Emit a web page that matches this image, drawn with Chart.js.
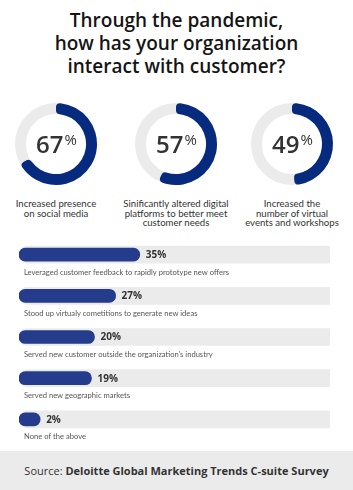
<!DOCTYPE html>
<html>
<head>
<meta charset="utf-8">
<script src="https://cdn.jsdelivr.net/npm/chart.js@4"></script>
<style>
  html, body { margin: 0; padding: 0; background: #fff; }
  body { width: 353px; height: 490px; position: relative; overflow: hidden; font-family: "Open Sans", sans-serif; color: #333; }
  .title { position: absolute; left: 0; top: 9px; width: 353px; text-align: center; font-size: 19px; font-weight: 600; line-height: 23px; color: #151515; }
  .donut { position: absolute; top: 99px; }
  .dlabel { position: absolute; top: 199px; width: 120px; text-align: center; font-family: Lato, sans-serif; font-size: 9.6px; line-height: 9.6px; color: #333; }
  #bars { position: absolute; left: 0; top: 234px; }
  .footer { position: absolute; left: 0; top: 451px; width: 353px; height: 39px; background: #ebebeb; text-align: center; font-size: 11px; line-height: 39px; color: #333; }
  .footer b { font-weight: 700; }
</style>
</head>
<body>
<div class="title">Through the pandemic,<br>how has your organization<br>interact with customer?</div>

<canvas class="donut" id="d0" width="90" height="90" style="left:11px"></canvas>
<canvas class="donut" id="d1" width="90" height="90" style="left:131px"></canvas>
<canvas class="donut" id="d2" width="90" height="90" style="left:247px"></canvas>

<div class="dlabel" style="left:-4px">Increased presence<br>on social media</div>
<div class="dlabel" style="left:116px">Sinificantly altered digital<br>platforms to better meet<br>customer needs</div>
<div class="dlabel" style="left:232px">Increased the<br>number of virtual<br>events and workshops</div>

<canvas id="bars" width="353" height="206"></canvas>

<div class="footer">Source: <b>Deloitte Global Marketing Trends C-suite Survey</b></div>

<script>
// ── Data ──────────────────────────────────────────────────────────────────────
const donutValues = [67, 57, 49];

const barLabels = [
    'Leveraged customer feedback to rapidly prototype new offers',
    'Stood up virtualy cometitions to generate new ideas',
    'Served new customer outside the organization\u2019s industry',
    'Served new geographic markets',
    'None of the above'
];
const barValues = [35, 27, 20, 19, 2];
const trackValues = [100, 100, 100, 100, 100];

const NAVY = '#062a7e';
const BAR_BLUE = '#253c8c';
const GREY = '#ebebeb';

// ── Donuts ────────────────────────────────────────────────────────────────────
// grey ring behind the arc + the big number in the middle
const ringPlugin = {
    id: 'ring',
    beforeDatasetsDraw(chart) {
        const arc = chart.getDatasetMeta(0).data[0];
        const { ctx } = chart;
        const r = (arc.outerRadius + arc.innerRadius) / 2;
        ctx.save();
        ctx.beginPath();
        ctx.arc(arc.x, arc.y, r, 0, Math.PI * 2);
        ctx.lineWidth = arc.outerRadius - arc.innerRadius;
        ctx.strokeStyle = GREY;
        ctx.stroke();
        ctx.restore();
    },
    afterDraw(chart) {
        const arc = chart.getDatasetMeta(0).data[0];
        const { ctx } = chart;
        const num = String(chart.data.datasets[0].data[0]);
        ctx.save();
        ctx.fillStyle = '#333';
        ctx.textBaseline = 'alphabetic';
        ctx.font = '600 24px "Open Sans"';
        const w1 = ctx.measureText(num).width;
        ctx.font = '400 15px "Open Sans"';
        const w2 = ctx.measureText('%').width;
        const x0 = arc.x - (w1 + w2) / 2;
        ctx.font = '600 24px "Open Sans"';
        ctx.fillText(num, x0, arc.y + 9);
        ctx.font = '400 15px "Open Sans"';
        ctx.fillText('%', x0 + w1 + 1, arc.y + 1);
        ctx.restore();
    }
};

donutValues.forEach((v, i) => {
    new Chart(document.getElementById('d' + i), {
        type: 'doughnut',
        data: {
            datasets: [{
                data: [v, 100 - v],
                backgroundColor: [NAVY, 'rgba(0,0,0,0)'],
                borderWidth: 0,
                borderRadius: [4, 0]
            }]
        },
        options: {
            responsive: false,
            animation: false,
            radius: 41,
            cutout: 33,
            plugins: { legend: { display: false }, tooltip: { enabled: false } },
            events: []
        },
        plugins: [ringPlugin]
    });
});

// ── Bars ──────────────────────────────────────────────────────────────────────
// value label after each bar, caption under each track
const labelPlugin = {
    id: 'barText',
    afterDatasetsDraw(chart) {
        const { ctx } = chart;
        const meta = chart.getDatasetMeta(0);
        const xs = chart.scales.x;
        ctx.save();
        meta.data.forEach((bar, i) => {
            ctx.textBaseline = 'middle';
            ctx.fillStyle = '#333';
            ctx.font = '700 10px "Open Sans"';
            ctx.fillText(barValues[i] + '%', bar.x + 6, bar.y + 0.5);

            ctx.fillStyle = '#555';
            ctx.font = '400 7.6px Lato';
            ctx.fillText(barLabels[i], xs.left + 5, bar.y + 17.5);
        });
        ctx.restore();
    }
};

new Chart(document.getElementById('bars'), {
    type: 'bar',
    data: {
        labels: barLabels,
        datasets: [
            {
                data: barValues,
                base: -5,
                backgroundColor: BAR_BLUE,
                barThickness: 13,
                borderRadius: 7,
                borderSkipped: false,
                order: 1
            },
            {
                data: trackValues,
                base: -5,
                backgroundColor: GREY,
                barThickness: 17,
                borderRadius: 9,
                borderSkipped: false,
                order: 2
            }
        ]
    },
    options: {
        indexAxis: 'y',
        responsive: false,
        animation: false,
        layout: { padding: { left: 19, right: 23, top: 0, bottom: 0 } },
        datasets: { bar: { grouped: false } },
        scales: {
            x: { display: false, min: -5, max: 98 },
            y: { display: false }
        },
        plugins: { legend: { display: false }, tooltip: { enabled: false } },
        events: []
    },
    plugins: [labelPlugin]
});
</script>
</body>
</html>
